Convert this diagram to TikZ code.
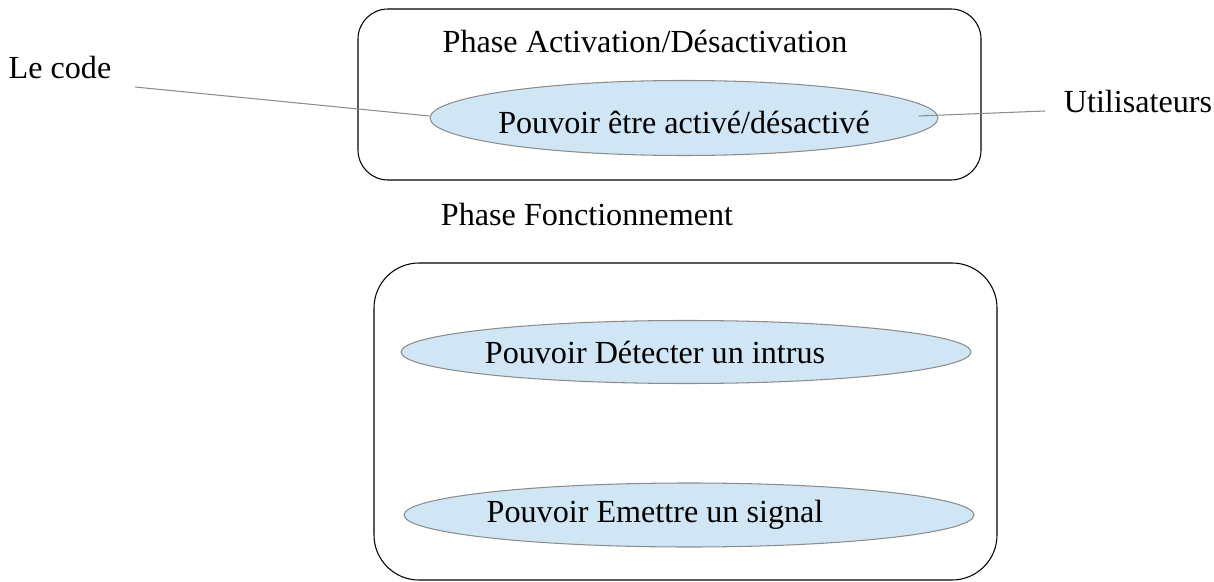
\documentclass[tikz,border=0pt]{standalone}
\usepackage{fontspec}
\setmainfont{Liberation Serif}
\usepackage{tikz}
\usetikzlibrary{shapes.geometric}
\definecolor{casefill}{HTML}{D0E6F5}
\definecolor{caseline}{HTML}{8C8C8C}

\begin{document}
\begin{tikzpicture}[
            font=\fontsize{18.3}{22}\selectfont,
            phasebox/.style={draw=black, line width=0.6pt},
            usecase/.style={ellipse, draw=caseline, fill=casefill, line width=0.6pt, inner sep=0pt},
            link/.style={draw=caseline, line width=0.6pt}
        ]
            \useasboundingbox (0,0) rectangle (24.28,-11.64);
            % phase activation / desactivation
            \draw[phasebox, rounded corners=0.6cm]  (7.16,-0.18) rectangle (19.62,-3.6);
            \node (titleact) at (12.9,-0.82) {Phase Activation/Désactivation};
            \node[usecase, minimum width=10.16cm, minimum height=1.5cm,
                  label={[yshift=-0.08cm]center:Pouvoir être activé/désactivé}] (act) at (13.68,-2.36) {};
            \node (code) at (1.2,-1.36) {Le code};
            \node (users) at (22.76,-2.04) {Utilisateurs};
            \coordinate (codeend) at (2.7,-1.74);
            \coordinate (usersend) at (20.9,-2.22);
            \draw[link] (codeend) -- ([yshift=0.04cm]act.west);
            \draw[link] ([xshift=-0.4cm,yshift=0.04cm]act.east) -- (usersend);

            % phase fonctionnement
            \node (titlefct) at (11.74,-4.3) {Phase Fonctionnement};
            \draw[phasebox, rounded corners=0.9cm]  (7.48,-5.26) rectangle (19.94,-11.6);
            \node[usecase, minimum width=11.4cm, minimum height=1.26cm,
                  label={[xshift=-0.62cm]center:Pouvoir Détecter un intrus}] (detect) at (13.72,-7.04) {};
            \node[usecase, minimum width=11.4cm, minimum height=1.28cm,
                  label={[xshift=-0.68cm]center:Pouvoir Emettre un signal}] (emit) at (13.78,-10.3) {};
        \end{tikzpicture}
\end{document}
